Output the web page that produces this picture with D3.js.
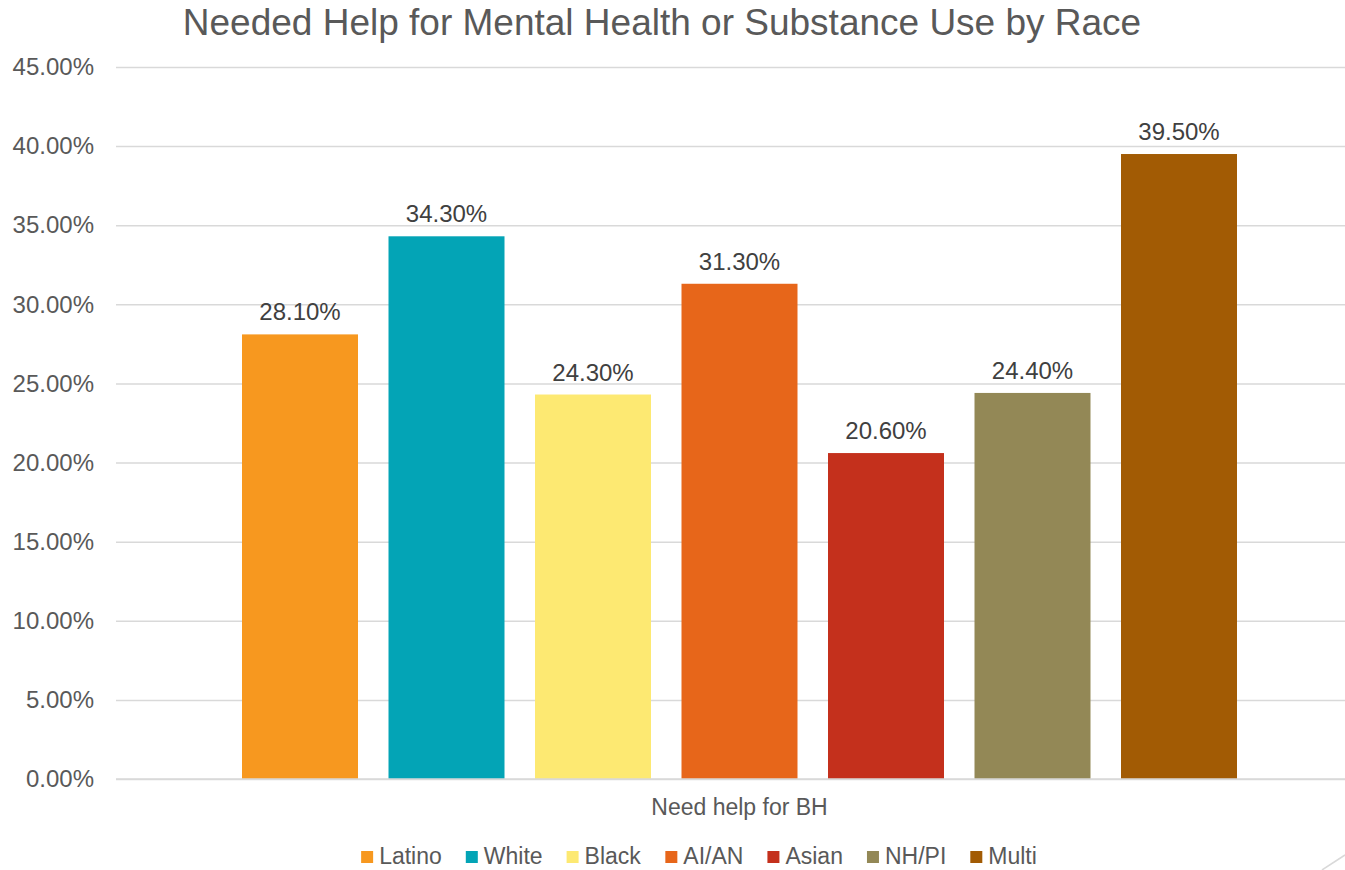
<!DOCTYPE html>
<html>
<head>
<meta charset="utf-8">
<script src="https://cdn.jsdelivr.net/npm/d3@7"></script>
<style>
  html, body { margin: 0; padding: 0; background: #fff; }
  svg { display: block; font-family: "Liberation Sans", Arial, sans-serif; }
</style>
</head>
<body>
<svg id="chart" width="1345" height="870"></svg>
<script>
// Share of respondents who needed help for behavioral health, by race
const categories = ["Need help for BH"];
const races = ["Latino", "White", "Black", "AI/AN", "Asian", "NH/PI", "Multi"];
const values = [28.1, 34.3, 24.3, 31.3, 20.6, 24.4, 39.5];
const colors = ["#F7981F", "#03A4B6", "#FDE972", "#E7661A", "#C4301C", "#938856", "#A25B04"];
const yTicks = [0, 5, 10, 15, 20, 25, 30, 35, 40, 45];

const svg = d3.select("#chart");
const W = 1345, H = 870;
const margin = { left: 116, right: -18, top: 67, bottom: 91 };
const plotTop = margin.top, plotBottom = H - margin.bottom; // 779

const y = d3.scaleLinear().domain([0, 45]).range([plotBottom, plotTop]);
const x0 = d3.scaleBand().domain(categories).range([margin.left, W - margin.right]).paddingInner(0).paddingOuter(0.108);
const x1 = d3.scaleBand().domain(races).range([0, x0.bandwidth()]).paddingInner(0.2082).paddingOuter(0.1041);
const color = d3.scaleOrdinal().domain(races).range(colors);

// Title
svg.append("text")
  .attr("x", 662).attr("y", 35)
  .attr("text-anchor", "middle")
  .attr("font-size", 37)
  .attr("fill", "#595959")
  .text("Needed Help for Mental Health or Substance Use by Race");

// Gridlines + y tick labels
const yAxis = d3.axisLeft(y).tickValues(yTicks)
  .tickSize(-(W - margin.right - margin.left))
  .tickPadding(22)
  .tickFormat(d => d3.format(".2f")(d) + "%");
const gy = svg.append("g").attr("transform", `translate(${margin.left},0)`).call(yAxis);
gy.select(".domain").remove();
gy.selectAll(".tick line").attr("stroke", "#D9D9D9").attr("stroke-width", 1.5);
gy.selectAll(".tick text").attr("font-size", 24).attr("fill", "#595959")
  .attr("font-family", "Liberation Sans, Arial, sans-serif");

// Bars
const group = svg.append("g").selectAll("g").data(categories).join("g")
  .attr("transform", d => `translate(${x0(d)},0)`);

const rows = races.map((r, i) => ({ race: r, value: values[i] }));

group.selectAll("rect").data(rows).join("rect")
  .attr("x", d => x1(d.race))
  .attr("width", x1.bandwidth())
  .attr("y", d => y(d.value))
  .attr("height", d => y(0) - y(d.value))
  .attr("fill", d => color(d.race));

// Value labels
group.selectAll("text.val").data(rows).join("text")
  .attr("class", "val")
  .attr("x", d => x1(d.race) + x1.bandwidth() / 2)
  .attr("y", d => y(d.value) - 14)
  .attr("text-anchor", "middle")
  .attr("font-size", 24)
  .attr("fill", "#404040")
  .text(d => d3.format(".2f")(d.value) + "%");

// Category axis
const xAxis = d3.axisBottom(x0).tickSize(0).tickPadding(20);
const gx = svg.append("g").attr("transform", `translate(0,${plotBottom})`).call(xAxis);
gx.select(".domain").remove();
gx.selectAll(".tick text").attr("font-size", 23).attr("fill", "#595959")
  .attr("font-family", "Liberation Sans, Arial, sans-serif");

// Zero baseline
svg.append("line")
  .attr("x1", margin.left).attr("x2", W - margin.right)
  .attr("y1", y(0)).attr("y2", y(0))
  .attr("stroke", "#D9D9D9").attr("stroke-width", 1.5);

// Legend
const legend = svg.append("g");
const items = legend.selectAll("g").data(races).join("g");
items.append("rect").attr("width", 12).attr("height", 12).attr("y", -13)
  .attr("fill", d => color(d));
items.append("text").attr("x", 18).attr("y", 0)
  .attr("font-size", 23).attr("fill", "#595959")
  .text(d => d);
let cx = 0;
const gap = 24;
items.each(function () {
  const w = this.getBBox().width;
  d3.select(this).attr("transform", `translate(${cx},0)`);
  cx += w + gap;
});
const total = cx - gap;
legend.attr("transform", `translate(${699 - total / 2},864)`);

// Corner resize mark
svg.append("line")
  .attr("x1", 1322).attr("y1", 870).attr("x2", 1345).attr("y2", 855)
  .attr("stroke", "#D9D9D9").attr("stroke-width", 1.5);
</script>
</body>
</html>
